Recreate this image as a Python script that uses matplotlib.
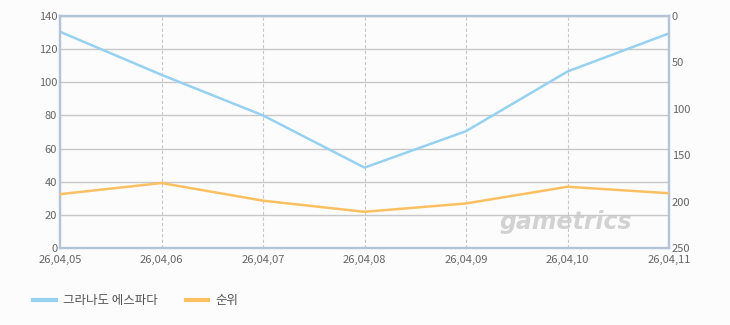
import matplotlib.pyplot as plt
import numpy as np

plt.rcParams['font.family'] = ['Noto Sans CJK KR', 'DejaVu Sans']

dates = ['26,04,05', '26,04,06', '26,04,07', '26,04,08', '26,04,09', '26,04,10', '26,04,11']
game_values = [130.5, 104.5, 80, 48.5, 70.5, 106.5, 129.5]
rank_values = [192, 180, 199, 211, 202, 184, 191]
series_names = ['그라나도 에스파다', '순위']

bg = '#fcfcfc'
spine_col = '#b4c4d6'
text_col = '#666666'

fig = plt.figure(figsize=(7.3, 3.25), dpi=100, facecolor=bg)
ax = fig.add_axes([60 / 730, 1 - 248 / 325, 609 / 730, 232 / 325])
ax.set_facecolor(bg)
x = np.arange(len(dates))

ax.plot(x, game_values, color='#96d2f0', lw=1.8, zorder=3)
ax.set_xlim(0, len(dates) - 1)
ax.set_ylim(0, 140)
ax.set_yticks(range(0, 141, 20))
ax.set_xticks(x)
ax.set_xticklabels(dates)
ax.grid(axis='y', color='#c8c8c8', lw=1, ls='-')
ax.grid(axis='x', color='#c8c8c8', lw=0.8, ls=(0, (3, 2)))
ax.tick_params(length=0, labelsize=8, colors=text_col, pad=2)
ax.tick_params(axis='x', pad=5)

ax2 = ax.twinx()
ax2.plot(x, rank_values, color='#fcc062', lw=1.8, zorder=3)
ax2.set_ylim(250, 0)
ax2.set_yticks(range(0, 251, 50))
ax2.tick_params(length=0, labelsize=8, colors=text_col, pad=2)

for a in (ax, ax2):
    for s in a.spines.values():
        s.set_color(spine_col)
        s.set_linewidth(1.6)

ax.text(0.94, 0.06, 'gametrics', transform=ax.transAxes, ha='right', va='bottom',
        fontsize=17, fontstyle='italic', fontweight='bold', color='#d2d2d2',
        family='DejaVu Sans', zorder=1)

# legend drawn below the axes
fig.legend([plt.Line2D([], [], color='#96d2f0', lw=3),
            plt.Line2D([], [], color='#fcc062', lw=3)],
           series_names, loc='lower left', bbox_to_anchor=(22 / 730, 0.02),
           ncol=2, frameon=False, fontsize=9, labelcolor='#555555',
           handlelength=1.8, handletextpad=0.6, columnspacing=2.2)

fig.savefig('out.png', dpi=100, facecolor=bg)
